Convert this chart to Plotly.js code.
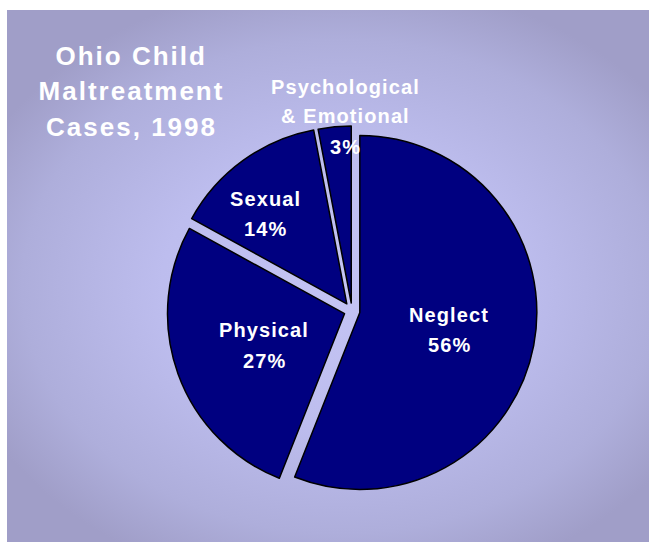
<!DOCTYPE html>
<html>
<head>
<meta charset="utf-8">
<script src="https://cdn.plot.ly/plotly-3.0.1.min.js"></script>
<style>
  html, body { margin: 0; padding: 0; background: #ffffff; }
  #bg {
    position: absolute; left: 7px; top: 10px; width: 642px; height: 532px;
    background: radial-gradient(ellipse 62% 58% at 52% 52%, #c4c4f4 0%, #bdbdee 45%, #aeaedb 80%, #a09ec8 100%);
  }
  #chart { position: absolute; left: 0; top: 0; width: 649px; height: 542px; }
  .annotation-text { letter-spacing: 1.1px; }
  .annotation[data-index="9"] .annotation-text,
  .annotation[data-index="10"] .annotation-text,
  .annotation[data-index="11"] .annotation-text { letter-spacing: 2px; }
</style>
</head>
<body>
<div id="bg"></div>
<div id="chart"></div>
<script>
// ---- data ----
var categories = ["Neglect", "Physical", "Sexual", "Psychological<br>& Emotional"];
var values = [56, 27, 14, 3];
var titleLines = ["Ohio Child", "Maltreatment", "Cases, 1998"];

// ---- presentation ----
var W = 649, H = 542;
var pulls = [0.045, 0.045, 0.05, 0.045];
// label line centres in pixels
var labelPos = [
  {x: 449, ys: [315], py: 345},
  {x: 264, ys: [330], py: 361},
  {x: 265, ys: [199], py: 229},
  {x: 345, ys: [87, 116], py: 147}
];
var titlePos = {x: 131, ys: [56, 91, 127]};

var total = values.reduce(function (a, b) { return a + b; }, 0);
var annotations = [];
function px(x) { return x / W; }
function py(y) { return 1 - y / H; }
var lblFont = {family: "Liberation Sans, Arial, sans-serif", size: 20, color: "#ffffff", weight: "bold"};
categories.forEach(function (c, i) {
  var lines = c.split("<br>");
  lines.forEach(function (ln, k) {
    annotations.push({
      xref: "paper", yref: "paper", x: px(labelPos[i].x), y: py(labelPos[i].ys[k]),
      xanchor: "center", yanchor: "middle", showarrow: false, text: ln, font: lblFont
    });
  });
  annotations.push({
    xref: "paper", yref: "paper", x: px(labelPos[i].x), y: py(labelPos[i].py),
    xanchor: "center", yanchor: "middle", showarrow: false,
    text: Math.round(values[i] / total * 100) + "%", font: lblFont
  });
});
titleLines.forEach(function (t, k) {
  annotations.push({
    xref: "paper", yref: "paper", x: px(titlePos.x), y: py(titlePos.ys[k]),
    xanchor: "center", yanchor: "middle", showarrow: false, text: t,
    font: {family: "Liberation Sans, Arial, sans-serif", size: 26, color: "#ffffff", weight: "bold"}
  });
});

var cx = 352, cy = 311, r = 177, maxPull = Math.max.apply(null, pulls);
var half = r * (1 + maxPull);

var trace = {
  type: "pie",
  labels: categories,
  values: values,
  sort: false,
  direction: "clockwise",
  rotation: 0,
  pull: pulls,
  textinfo: "none",
  hoverinfo: "label+percent",
  marker: {colors: ["#000080", "#000080", "#000080", "#000080"], line: {color: "#000000", width: 1.5}},
  domain: {x: [(cx - half) / W, (cx + half) / W], y: [1 - (cy + half) / H, 1 - (cy - half) / H]},
  showlegend: false
};

var layout = {
  width: W, height: H,
  margin: {l: 0, r: 0, t: 0, b: 0},
  paper_bgcolor: "rgba(0,0,0,0)",
  plot_bgcolor: "rgba(0,0,0,0)",
  showlegend: false,
  annotations: annotations
};

Plotly.newPlot("chart", [trace], layout, {displayModeBar: false, staticPlot: true});
</script>
</body>
</html>
